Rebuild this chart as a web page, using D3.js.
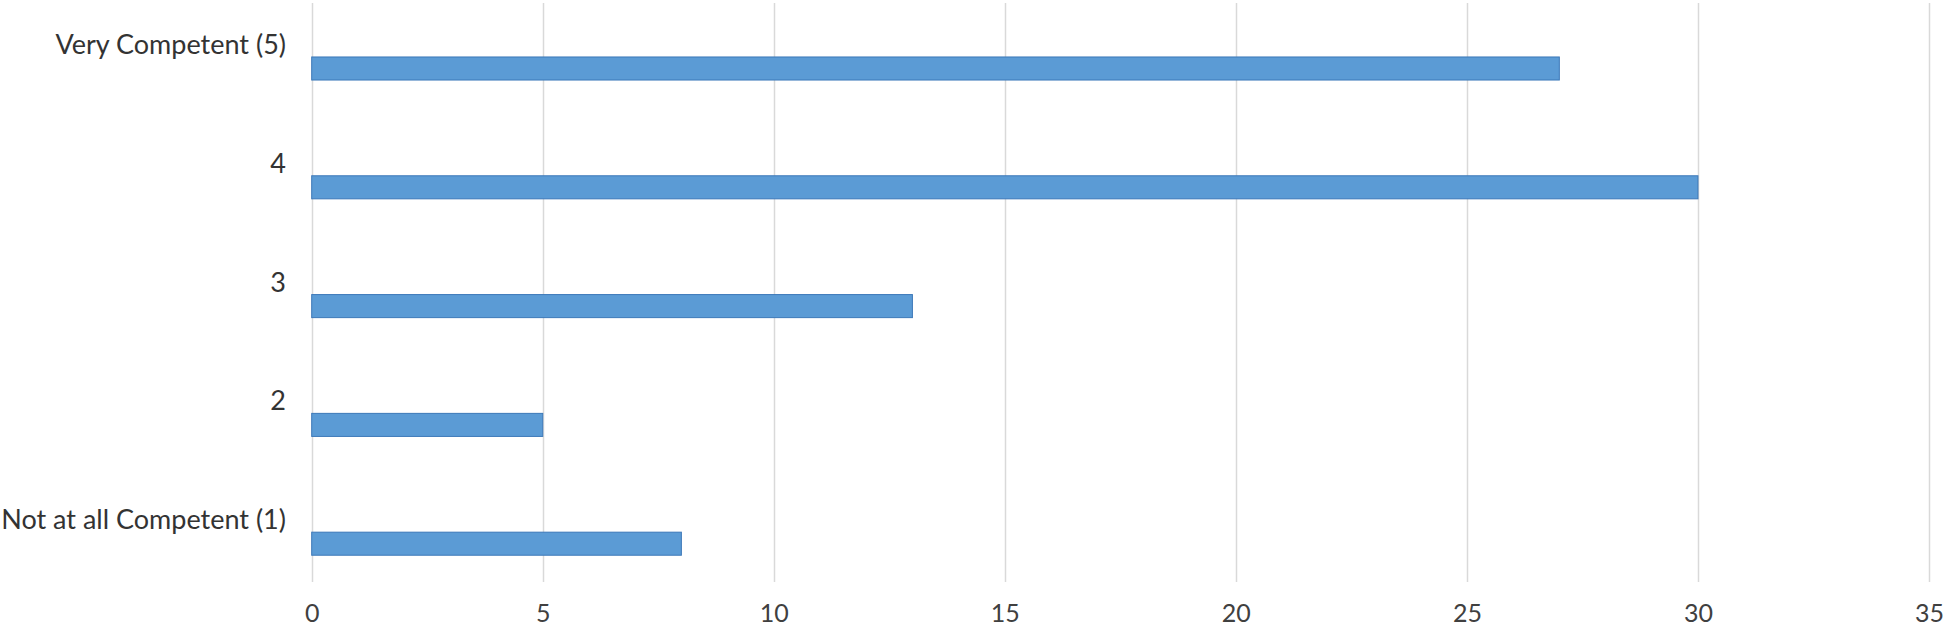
<!DOCTYPE html>
<html>
<head>
<meta charset="utf-8">
<script src="https://cdn.jsdelivr.net/npm/d3@7"></script>
<style>
html, body { margin: 0; padding: 0; background: #fff; }
svg { display: block; }
text { font-family: Lato, "Open Sans", sans-serif; }
</style>
</head>
<body>
<svg id="chart" width="1950" height="633"></svg>
<script>
const categories = ["Very Competent (5)", "4", "3", "2", "Not at all Competent (1)"];
const values = [27, 30, 13, 5, 8];
const xTicks = [0, 5, 10, 15, 20, 25, 30, 35];

const svg = d3.select("#chart");
const x = d3.scaleLinear().domain([0, 35]).range([311.7, 1929]);
const y = d3.scaleBand().domain(categories).range([9.1, 603.1])
  .paddingInner(0.806).paddingOuter(0.403);

// gridlines
svg.append("g").selectAll("line").data(xTicks).join("line")
  .attr("x1", d => Math.round(x(d)) + 0.5).attr("x2", d => Math.round(x(d)) + 0.5)
  .attr("y1", 3).attr("y2", 582)
  .attr("stroke", "#d9d9d9").attr("stroke-width", 1.5);

// x axis tick labels
const xAxis = d3.axisBottom(x).tickValues(xTicks).tickSize(0).tickPadding(0);
const gx = svg.append("g").attr("transform", "translate(0,604)").call(xAxis);
gx.select(".domain").remove();
gx.selectAll("text").attr("font-size", 25).attr("fill", "#404040")
  .attr("font-family", "Lato, 'Open Sans', sans-serif");

// bars
svg.append("g").selectAll("rect").data(values).join("rect")
  .attr("x", x(0))
  .attr("y", (d, i) => y(categories[i]))
  .attr("width", d => x(d) - x(0))
  .attr("height", y.bandwidth())
  .attr("fill", "#5b9bd5")
  .attr("stroke", "#3c78b8").attr("stroke-width", 1);

// category labels (sit above bar centre, Excel-style)
svg.append("g").selectAll("text").data(categories).join("text")
  .attr("x", 286)
  .attr("y", d => y(d) + y.bandwidth() / 2 - 24)
  .attr("dy", "0.35em")
  .attr("text-anchor", "end")
  .attr("font-size", 27)
  .attr("fill", "#333")
  .text(d => d);
</script>
</body>
</html>
